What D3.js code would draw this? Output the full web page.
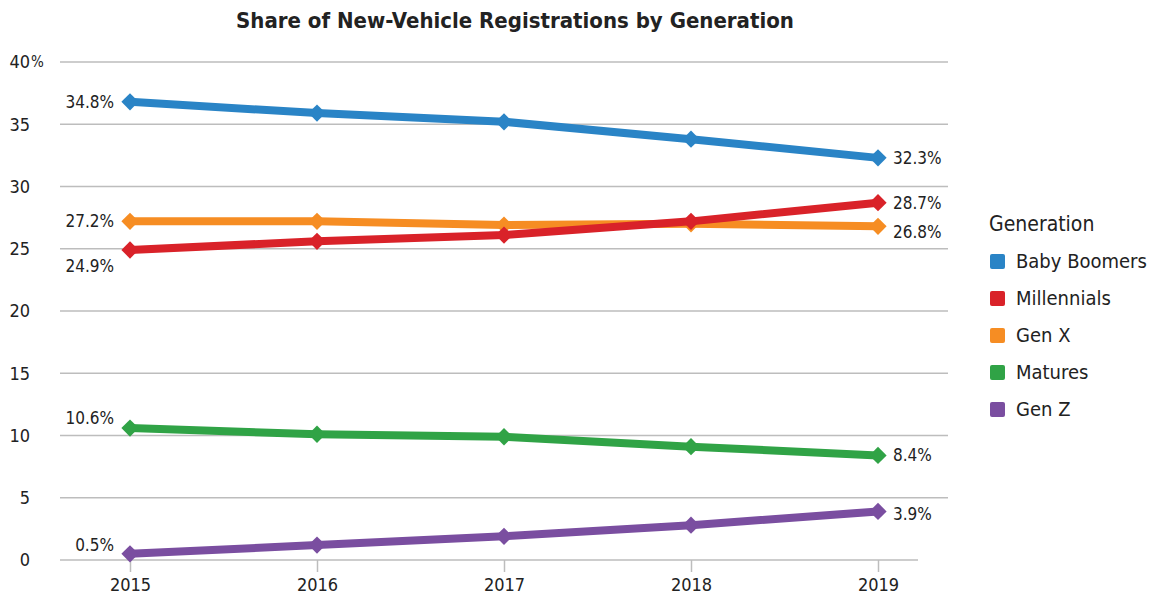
<!DOCTYPE html>
<html>
<head>
<meta charset="utf-8">
<script src="https://cdn.jsdelivr.net/npm/d3@7"></script>
<style>
  body { margin: 0; background: #fff; }
  text { font-family: "DejaVu Sans Condensed", "DejaVu Sans", sans-serif; font-stretch: condensed; fill: #222; }
</style>
</head>
<body>
<div id="chart"></div>
<script>
const width = 1152;
const height = 605;
const fontFamily = "\"DejaVu Sans Condensed\", \"DejaVu Sans\", sans-serif";

const years = ["2015", "2016", "2017", "2018", "2019"];
const generations = ["Baby Boomers", "Millennials", "Gen X", "Matures", "Gen Z"];
const colors = ["#2a84c6", "#d92229", "#f68d23", "#30a346", "#7a4ea0"];

const babyBoomers = [36.8, 35.9, 35.2, 33.8, 32.3];
const millennials = [24.9, 25.6, 26.1, 27.2, 28.7];
const genX = [27.2, 27.2, 26.9, 27.0, 26.8];
const matures = [10.6, 10.1, 9.9, 9.1, 8.4];
const genZ = [0.5, 1.2, 1.9, 2.8, 3.9];

// endpoint labels as printed on the chart
const startLabels = ["34.8%", "24.9%", "27.2%", "10.6%", "0.5%"];
const endLabels = ["32.3%", "28.7%", "26.8%", "8.4%", "3.9%"];
const startDy = [0, 16, 0, -10, -9];
const endDy = [0, 0, 6, 0, 3];

const yTicks = [0, 5, 10, 15, 20, 25, 30, 35, 40];

const series = [babyBoomers, millennials, genX, matures, genZ].map((values, i) => ({
  name: generations[i],
  color: colors[i],
  values,
  startLabel: startLabels[i],
  endLabel: endLabels[i],
  startDy: startDy[i],
  endDy: endDy[i]
}));

const x = d3.scalePoint().domain(years).range([130, 878]);
const y = d3.scaleLinear().domain([0, 40]).range([560, 62]);

const svg = d3.select("#chart").append("svg")
  .attr("width", width)
  .attr("height", height);

svg.append("text")
  .attr("x", 515)
  .attr("y", 28)
  .attr("text-anchor", "middle")
  .style("font-size", "22px")
  .style("font-weight", "bold")
  .text("Share of New-Vehicle Registrations by Generation");

// gridlines
svg.append("g")
  .selectAll("line")
  .data(yTicks.filter(d => d > 0))
  .join("line")
  .attr("x1", 60)
  .attr("x2", 948)
  .attr("y1", d => y(d))
  .attr("y2", d => y(d))
  .attr("stroke", "#bdbdbd")
  .attr("stroke-width", 1.5);

// y axis labels
const yAxis = d3.axisLeft(y).tickValues(yTicks).tickSize(0).tickPadding(0);
const yG = svg.append("g")
  .attr("transform", "translate(30,0)")
  .call(yAxis);
yG.select(".domain").remove();
yG.selectAll("text")
  .style("font-size", "18px")
  .style("font-family", fontFamily)
  .attr("fill", "#222");
svg.append("text")
  .attr("x", 31)
  .attr("y", y(40))
  .attr("dy", "0.32em")
  .style("font-size", "15px")
  .text("%");

// x axis
const xAxis = d3.axisBottom(x).tickSize(12).tickPadding(6).tickSizeOuter(0);
const xG = svg.append("g")
  .attr("transform", "translate(0,560)")
  .call(xAxis);
xG.select(".domain")
  .attr("d", "M60,0H918")
  .attr("stroke", "#bdbdbd")
  .attr("stroke-width", 1.5);
xG.selectAll(".tick line").attr("stroke", "#bdbdbd").attr("stroke-width", 1.5);
xG.selectAll("text")
  .style("font-size", "18px")
  .style("font-family", fontFamily)
  .attr("fill", "#222");

const line = d3.line()
  .x((d, i) => x(years[i]))
  .y(d => y(d));

const diamond = d3.symbol().type(d3.symbolDiamond2).size(190);

// draw from last to first so Millennials sit over Gen X
const drawOrder = series.slice().reverse();
drawOrder.forEach(s => {
  const g = svg.append("g");
  g.append("path")
    .datum(s.values)
    .attr("fill", "none")
    .attr("stroke", s.color)
    .attr("stroke-width", 8)
    .attr("stroke-linejoin", "round")
    .attr("d", line);
  g.selectAll("path.pt")
    .data(s.values)
    .join("path")
    .attr("class", "pt")
    .attr("transform", (d, i) => `translate(${x(years[i])},${y(d)})`)
    .attr("d", diamond)
    .attr("fill", s.color);
});

// endpoint labels
series.forEach(s => {
  svg.append("text")
    .attr("x", x(years[0]) - 16)
    .attr("y", y(s.values[0]) + s.startDy)
    .attr("dy", "0.35em")
    .attr("text-anchor", "end")
    .style("font-size", "17px")
    .text(s.startLabel);
  svg.append("text")
    .attr("x", x(years[years.length - 1]) + 15)
    .attr("y", y(s.values[s.values.length - 1]) + s.endDy)
    .attr("dy", "0.35em")
    .style("font-size", "17px")
    .text(s.endLabel);
});

// legend
const legend = svg.append("g").attr("transform", "translate(989,0)");
legend.append("text")
  .attr("x", 0)
  .attr("y", 224)
  .attr("dy", "0.35em")
  .style("font-size", "21px")
  .text("Generation");
const items = legend.selectAll("g.item")
  .data(series)
  .join("g")
  .attr("class", "item")
  .attr("transform", (d, i) => `translate(0,${261 + i * 37})`);
items.append("rect")
  .attr("x", 1)
  .attr("y", -7)
  .attr("width", 15)
  .attr("height", 15)
  .attr("rx", 2)
  .attr("fill", d => d.color);
items.append("text")
  .attr("x", 27)
  .attr("y", 0)
  .attr("dy", "0.35em")
  .style("font-size", "20px")
  .text(d => d.name);
</script>
</body>
</html>
